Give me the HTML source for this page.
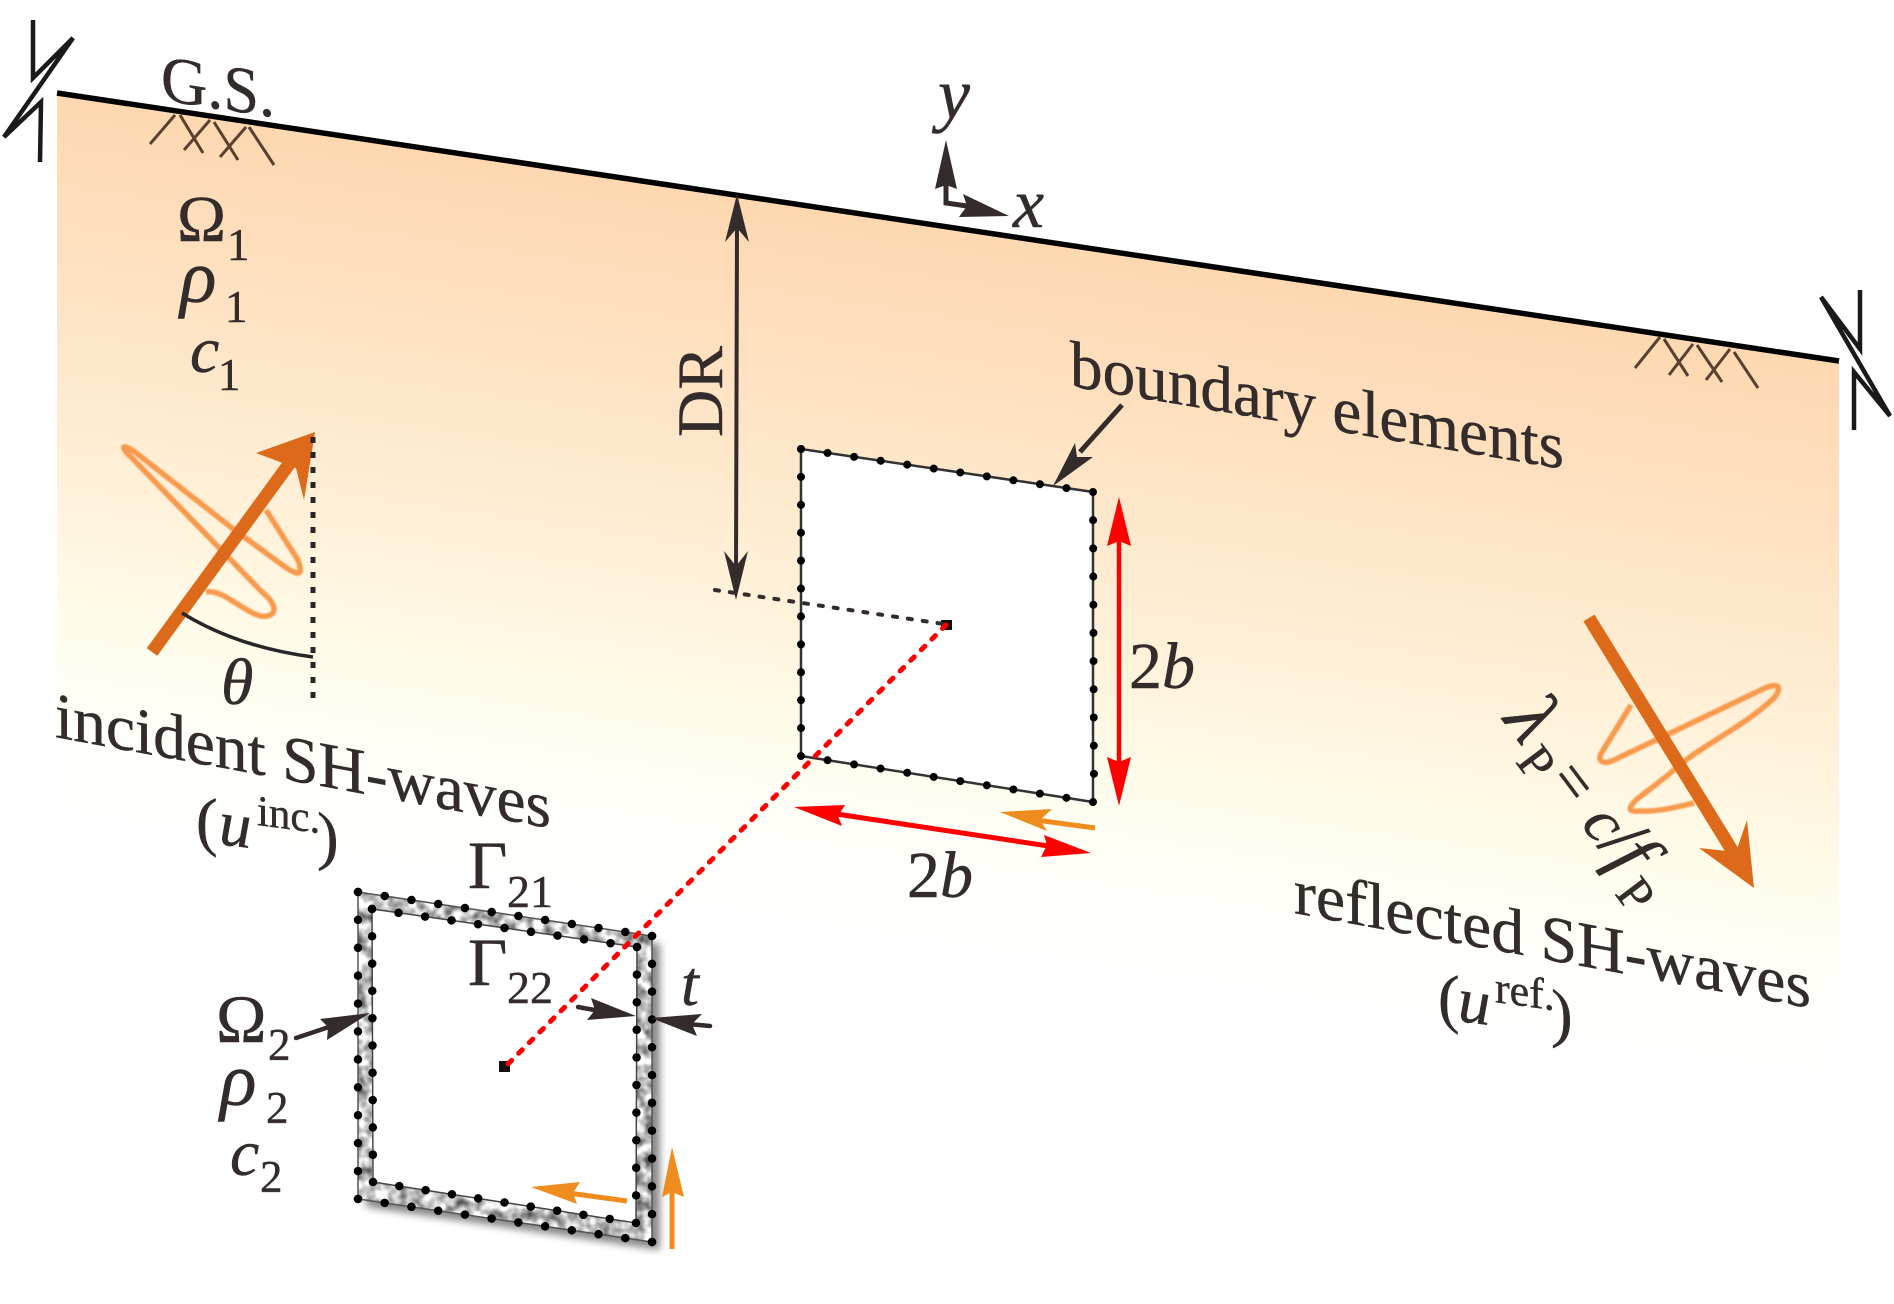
<!DOCTYPE html>
<html>
<head>
<meta charset="utf-8">
<style>
html,body{margin:0;padding:0;background:#fff;}
svg{display:block;}
text{font-family:"Liberation Serif",serif;fill:#332c2b;stroke:#332c2b;stroke-width:.45;}
.i{font-style:italic;}
</style>
</head>
<body>
<svg width="1894" height="1304" viewBox="0 0 1894 1304" xmlns="http://www.w3.org/2000/svg">
<defs>
<linearGradient id="bg" gradientUnits="userSpaceOnUse" x1="57" y1="93" x2="-49" y2="805">
<stop offset="0" stop-color="#fdd8b0"/>
<stop offset=".3" stop-color="#fee4c6"/>
<stop offset=".55" stop-color="#fff2da"/>
<stop offset=".72" stop-color="#fffcea"/>
<stop offset=".88" stop-color="#fffffb"/>
<stop offset="1" stop-color="#ffffff"/>
</linearGradient>
<filter id="mott" x="0" y="0" width="100%" height="100%" color-interpolation-filters="sRGB">
<feTurbulence type="fractalNoise" baseFrequency="0.09" numOctaves="2" seed="3"/>
<feColorMatrix values="1.3 0 0 0 .12 1.3 0 0 0 .12 1.3 0 0 0 .12 0 0 0 0 1"/>
<feComposite in2="SourceGraphic" operator="in"/>
</filter>
<filter id="sh" x="-10%" y="-10%" width="120%" height="120%"><feGaussianBlur stdDeviation="4"/></filter>
<filter id="soft" x="-10%" y="-10%" width="120%" height="120%"><feGaussianBlur stdDeviation="0.7"/></filter>
</defs>

<!-- soil -->
<polygon points="57,93 1839,361 1839,1100 57,830" fill="url(#bg)"/>
<line x1="57" y1="93" x2="1839" y2="361" stroke="#000" stroke-width="5.5"/>

<!-- break symbols -->
<polyline points="33,20 33,78 73,38 4,137 41,102 40,162" fill="none" stroke="#1a1a1a" stroke-width="4.5" stroke-linejoin="miter"/>
<polyline points="1860,290 1860,349 1821,297 1890,416 1854,372 1854,430" fill="none" stroke="#1a1a1a" stroke-width="4.5" stroke-linejoin="miter"/>

<!-- hatches -->
<g stroke="#5a4030" stroke-width="3" fill="none">
<path d="M175 115L150 144M180 115L203 153M210 120L184 150M214 122L238 160M246 127L220 157M249 127L274 165"/>
<path d="M1660 337L1635 368M1664 339L1688 376M1693 344L1669 375M1697 345L1722 382M1730 349L1706 380M1734 352L1758 388"/>
</g>

<!-- axes -->
<polyline points="946,185 946,203 967,206" fill="none" stroke="#332c2b" stroke-width="5"/>
<polygon points="946,140 957,189 946,185 935,189" fill="#332c2b"/>
<polygon points="1009,216 963,194 967,206 959,217" fill="#332c2b"/>
<text class="i" x="938" y="118" font-size="72">y</text>
<text class="i" x="1013" y="227" font-size="70">x</text>

<!-- G.S. -->
<text transform="matrix(1 .15 0 1 161 100)" font-size="66" textLength="114" lengthAdjust="spacingAndGlyphs">G.S.</text>

<!-- Omega1 etc -->
<text x="177" y="241" font-size="66">Ω</text><text x="227" y="260" font-size="45">1</text>
<text class="i" x="180" y="302" font-size="76">ρ</text><text x="225" y="322" font-size="45">1</text>
<text class="i" x="190" y="372" font-size="66">c</text><text x="218" y="390" font-size="45">1</text>

<!-- DR -->
<line x1="737" y1="225" x2="736" y2="570" stroke="#332c2b" stroke-width="4"/>
<polygon points="737,194 749,242 737,228 725,242" fill="#332c2b"/>
<polygon points="736,600 724,551 736,566 748,551" fill="#332c2b"/>
<text transform="translate(722 437) rotate(-90)" font-size="65" textLength="91" lengthAdjust="spacingAndGlyphs">DR</text>

<!-- cavity 1 -->
<polygon points="801,449 1093,492 1093,802 801,756" fill="#fff" stroke="#333" stroke-width="2.5"/>
<g fill="none" stroke="#000" stroke-width="8" stroke-linecap="round" stroke-dasharray="0.001 0.999">
<line x1="801" y1="449" x2="1093" y2="492" pathLength="11"/>
<line x1="1093" y1="492" x2="1094" y2="802" pathLength="11"/>
<line x1="1093" y1="802" x2="801" y2="756" pathLength="11"/>
<line x1="801" y1="756" x2="801" y2="449" pathLength="11"/>
</g>
<rect x="941" y="620" width="11" height="10" fill="#111"/>
<line x1="715" y1="590" x2="944" y2="624" stroke="#332c2b" stroke-width="4" stroke-dasharray="4 11" stroke-linecap="round"/>

<!-- boundary elements -->
<text transform="matrix(1 .168 0 1 1070 386)" font-size="66" textLength="494" lengthAdjust="spacingAndGlyphs">boundary elements</text>
<line x1="1122" y1="405" x2="1080" y2="452" stroke="#332c2b" stroke-width="5"/>
<polygon points="1053,486 1075,443 1077,457 1093,457" fill="#332c2b"/>

<!-- red dims -->
<line x1="1119" y1="535" x2="1119" y2="768" stroke="#f00" stroke-width="4.5"/>
<polygon points="1119,497 1131,546 1119,541 1107,546" fill="#f00"/>
<polygon points="1119,806 1107,757 1119,762 1131,757" fill="#f00"/>
<line x1="830" y1="813" x2="1055" y2="847" stroke="#f00" stroke-width="5"/>
<polygon points="794,807 845,805 838,816 842,826" fill="#f00"/>
<polygon points="1091,853 1044,835 1047,845 1041,857" fill="#f00"/>
<text x="1129" y="688" font-size="66">2<tspan class="i">b</tspan></text>
<text x="907" y="897" font-size="66">2<tspan class="i">b</tspan></text>

<!-- orange small arrows -->
<line x1="1095" y1="828" x2="1036" y2="820" stroke="#ef8c1e" stroke-width="5"/>
<polygon points="1000,812 1052,809 1040,820 1047,831" fill="#ef8c1e"/>

<!-- incident wave -->
<path d="M206 592 C225 588 250 620 268 616 C280 612 272 600 262 592 L130 456 C118 444 125 445 135 452 L232 528 L285 567 C302 578 302 573 298 560 L266 510" fill="none" stroke="#f79a4e" stroke-width="5.5" filter="url(#soft)"/>
<line x1="152" y1="652" x2="292" y2="460" stroke="#dc6a1a" stroke-width="13"/>
<polygon points="315,432 304,500 296,468 256,453" fill="#dc6a1a"/>
<line x1="313" y1="437" x2="313" y2="698" stroke="#2b2626" stroke-width="5" stroke-dasharray="6 9" stroke-linecap="butt"/>
<path d="M182 613 Q237 647 313 657" fill="none" stroke="#2b2626" stroke-width="3.5"/>
<text class="i" x="221" y="704" font-size="66">θ</text>

<text transform="matrix(1 .184 0 1 55 737)" font-size="65" textLength="496" lengthAdjust="spacingAndGlyphs">incident SH-waves</text>
<g transform="matrix(1 .13 0 1 196 841)">
<text x="0" y="0" font-size="65">(</text>
<text class="i" x="23" y="0" font-size="65">u</text>
<text x="61" y="-24" font-size="43">inc.</text>
<text x="121" y="0" font-size="65">)</text>
</g>

<!-- reflected wave -->
<path d="M1631 705 L1602 752 C1596 762 1604 764 1612 761 L1765 688 C1780 682 1782 688 1774 698 C1740 730 1700 745 1668 775 L1636 800 C1626 810 1630 812 1640 811 C1660 812 1680 806 1694 803" fill="none" stroke="#f79a4e" stroke-width="5.5" filter="url(#soft)"/>
<line x1="1589" y1="618" x2="1738" y2="860" stroke="#dc6a1a" stroke-width="13"/>
<polygon points="1754,888 1699,848 1736,852 1747,820" fill="#dc6a1a"/>

<!-- lambda -->
<g transform="translate(1502 720) rotate(53)">
<text class="i" x="0" y="0" font-size="80">λ</text>
<text x="41" y="15" font-size="50">P</text>
<text x="75" y="0" font-size="62">=</text>
<text class="i" x="130" y="0" font-size="64">c</text>
<text x="157" y="0" font-size="78">/</text>
<text class="i" x="176" y="0" font-size="76">f</text>
<text x="206" y="15" font-size="50">P</text>
</g>

<text transform="matrix(1 .184 0 1 1294 913)" font-size="65" textLength="517" lengthAdjust="spacingAndGlyphs">reflected SH-waves</text>
<g transform="matrix(1 .14 0 1 1438 1018)">
<text x="0" y="0" font-size="65">(</text>
<text class="i" x="20" y="0" font-size="65">u</text>
<text x="57" y="-24" font-size="44">ref.</text>
<text x="113" y="0" font-size="65">)</text>
</g>

<!-- inclusion 2 -->
<polygon points="366,900 660,944 660,1250 366,1207" fill="#888" filter="url(#sh)"/>
<polygon points="358,892 652,936 652,1242 358,1199" fill="#fff"/>
<path d="M358 892L652 936L652 1242L358 1199ZM372 909L372 1182L636 1223L637 947Z" fill-rule="evenodd" fill="#aaa" filter="url(#mott)"/>
<polygon points="358,892 652,936 652,1242 358,1199" fill="none" stroke="#555" stroke-width="1.5"/>
<polygon points="372,909 637,947 636,1223 373,1182" fill="#fff" stroke="#444" stroke-width="1.5"/>
<g fill="none" stroke="#000" stroke-width="8.5" stroke-linecap="round" stroke-dasharray="0.001 0.999">
<line x1="358" y1="892" x2="652" y2="936" pathLength="11"/>
<line x1="652" y1="936" x2="652" y2="1242" pathLength="11"/>
<line x1="652" y1="1242" x2="358" y2="1199" pathLength="11"/>
<line x1="358" y1="1199" x2="358" y2="892" pathLength="11"/>
<line x1="372" y1="909" x2="637" y2="947" pathLength="10"/>
<line x1="637" y1="947" x2="636" y2="1223" pathLength="10"/>
<line x1="636" y1="1223" x2="373" y2="1182" pathLength="10"/>
<line x1="373" y1="1182" x2="372" y2="909" pathLength="10"/>
</g>
<rect x="499" y="1061" width="11" height="11" fill="#111"/>

<!-- red dotted -->
<line x1="946" y1="625" x2="505" y2="1067" stroke="#f00" stroke-width="5" stroke-dasharray="5 10" stroke-linecap="round"/>

<!-- gamma -->
<text x="468" y="888" font-size="68">Γ</text><text x="507" y="907" font-size="46">21</text>
<text x="468" y="985" font-size="68">Γ</text><text x="507" y="1003" font-size="46">22</text>
<text class="i" x="681" y="1005" font-size="64">t</text>

<!-- black small arrows -->
<line x1="578" y1="1007" x2="600" y2="1011" stroke="#332c2b" stroke-width="4.5" stroke-linecap="round"/>
<polygon points="636,1016 591,998 595,1010 587,1020" fill="#332c2b"/>
<line x1="710" y1="1026" x2="688" y2="1024" stroke="#332c2b" stroke-width="4.5" stroke-linecap="round"/>
<polygon points="651,1018 702,1014 692,1024 697,1036" fill="#332c2b"/>
<line x1="296" y1="1038" x2="332" y2="1026" stroke="#332c2b" stroke-width="4.5" stroke-linecap="round"/>
<polygon points="370,1013 320,1019 328,1027 327,1040" fill="#332c2b"/>

<!-- Omega 2 labels -->
<text x="216" y="1042" font-size="68">Ω</text><text x="268" y="1060" font-size="45">2</text>
<text class="i" x="220" y="1105" font-size="76">ρ</text><text x="266" y="1123" font-size="45">2</text>
<text class="i" x="230" y="1175" font-size="66">c</text><text x="260" y="1192" font-size="45">2</text>

<!-- orange arrows at inclusion -->
<line x1="627" y1="1201" x2="568" y2="1193" stroke="#ef8c1e" stroke-width="5"/>
<polygon points="531,1187 580,1182 573,1193 577,1204" fill="#ef8c1e"/>
<line x1="672" y1="1249" x2="672" y2="1188" stroke="#ef8c1e" stroke-width="5"/>
<polygon points="672,1147 684,1197 672,1192 662,1197" fill="#ef8c1e"/>
</svg>
</body>
</html>
